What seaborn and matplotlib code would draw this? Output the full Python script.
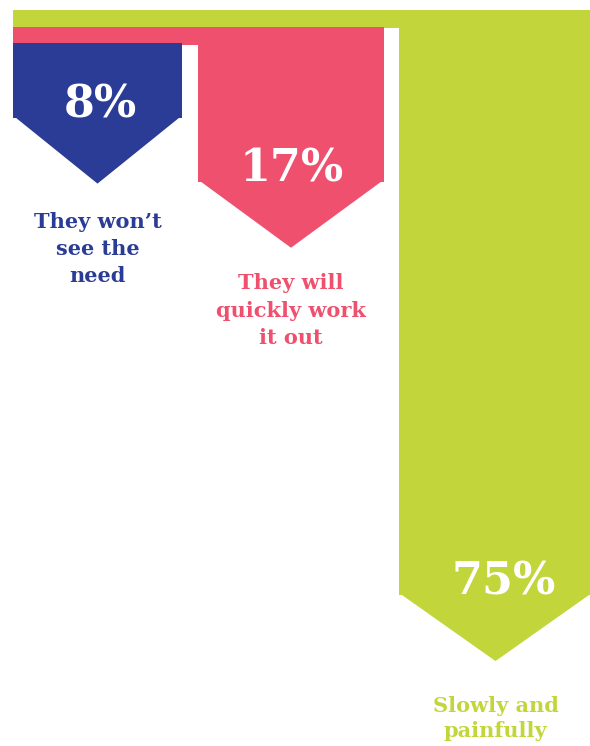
import matplotlib
matplotlib.use("Agg")
import matplotlib.pyplot as plt
from matplotlib.patches import Rectangle
import pandas as pd
import seaborn as sns

# Survey answers and their shares (%)
answers = ["They won\u2019t\nsee the\nneed", "They will\nquickly work\nit out", "Slowly and\npainfully"]
shares = [8, 17, 75]
share_labels = ["8%", "17%", "75%"]
palette = ["#2B3C96", "#EF506E", "#C2D63C"]

# Layout in pixels
FIG_W, FIG_H, DPI = 590, 746, 100
COL_LEFT = [13, 198, 399]
COL_RIGHT = [182, 384, 592]
BAND_LEFT = 13
TOP_PX = [43, 26.5, 10]
BAND_PX = 18
PX_PER_PCT = 7.126
ZERO_PX = 60.6
TIP_PX = 66
VALUE_DX_PX = [3, 1, 8]
# distance from arrow tip to the baseline of the last label line
LABEL_GAP_PX = [98.5, 96, 75.5]
LABEL_LINESPACING = [1.45, 1.45, 1.28]


def px_to_pct(py):
    return (py - ZERO_PX) / PX_PER_PCT


sns.set_theme(style="white")
plt.rcParams["font.family"] = ["DejaVu Serif"]

fig = plt.figure(figsize=(FIG_W / DPI, FIG_H / DPI), dpi=DPI)
ax = fig.add_axes([0, 0, 1, 1])

centers = [(l + r) / 2 for l, r in zip(COL_LEFT, COL_RIGHT)]
df = pd.DataFrame({"answer": answers, "share": shares, "center": centers})

sns.barplot(data=df, x="center", y="share", hue="answer", hue_order=answers,
            palette=palette, native_scale=True, saturation=1, legend=False,
            errorbar=None, linewidth=0, ax=ax)

ax.set_xlim(0, FIG_W)
ax.set_ylim(px_to_pct(FIG_H), px_to_pct(0))
ax.axis("off")

pct_per_px = 1 / PX_PER_PCT
bars = sorted(ax.patches, key=lambda p: p.get_x())
for i, bar in enumerate(bars):
    z = 3 - i
    top = px_to_pct(TOP_PX[i])
    left, right = COL_LEFT[i], COL_RIGHT[i]
    mid = (left + right) / 2
    # column hanging from its band down to the share value
    bar.set_x(left)
    bar.set_width(right - left)
    bar.set_y(top)
    bar.set_height(shares[i] - top)
    bar.set_zorder(z)
    bar.set_linewidth(0)
    # horizontal band reaching back to the left edge
    ax.add_patch(Rectangle((BAND_LEFT, top), right - BAND_LEFT, BAND_PX * pct_per_px,
                           facecolor=palette[i], linewidth=0, zorder=z))
    # arrow head
    tip = shares[i] + TIP_PX * pct_per_px
    ax.fill([left, right, mid], [shares[i] - 0.3, shares[i] - 0.3, tip],
            color=palette[i], linewidth=0, zorder=z)
    # value label sitting on the bottom of the column
    ax.text(mid + VALUE_DX_PX[i], shares[i] - 0.5 * pct_per_px, share_labels[i],
            ha="center", va="baseline", color="white", fontsize=32,
            fontweight="bold", zorder=5)
    # answer label under the arrow
    ax.text(mid, tip + LABEL_GAP_PX[i] * pct_per_px, answers[i], ha="center",
            va="baseline", multialignment="center", color=palette[i],
            fontsize=15, fontweight="bold", linespacing=LABEL_LINESPACING[i],
            zorder=5)

fig.savefig("out.png", dpi=DPI)
